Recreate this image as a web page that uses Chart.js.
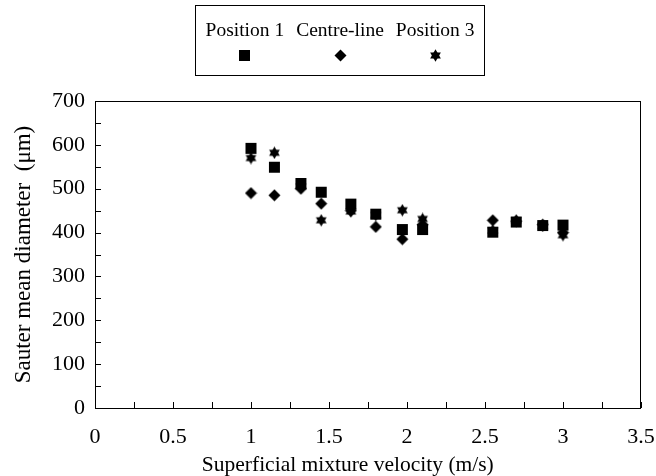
<!DOCTYPE html>
<html>
<head>
<meta charset="utf-8">
<script src="https://cdn.jsdelivr.net/npm/chart.js@4"></script>
<style>
  html, body { margin: 0; padding: 0; background: #fff; }
  #wrap { position: relative; width: 656px; height: 476px; }
  #legend {
    position: absolute; left: 195px; top: 5px; width: 290px; height: 71px;
    border: 1px solid #000; box-sizing: border-box;
    font-family: "Liberation Serif", "Times New Roman", serif; font-size: 19.5px;
    display: flex; justify-content: center; padding-top: 13px;
  }
  .item { display: flex; flex-direction: column; align-items: center; margin: 0 6px; line-height: 21px; }
  .item canvas { margin-top: 9px; }
</style>
</head>
<body>
<div id="wrap">
  <canvas id="chart" width="656" height="476"></canvas>
  <div id="legend"></div>
</div>
<script>
const velocity = [1.0, 1.15, 1.32, 1.45, 1.64, 1.8, 1.97, 2.1, 2.55, 2.7, 2.87, 3.0];
const position1 = [592, 549, 512, 492, 465, 442, 407, 407, 401, 424, 416, 417];
const centreLine = [490, 485, 500, 466, 450, 413, 385, 418, 428, 426, 418, 400];
const position3 = [570, 582, 505, 428, 448, 440, 451, 431, 405, 428, 415, 394];
const seriesNames = ["Position 1", "Centre-line", "Position 3"];
const xTitle = "Superficial mixture velocity (m/s)";
const yTitle = "Sauter mean diameter  (μm)";

function markerCanvas(kind) {
  const s = 13;
  const c = document.createElement("canvas");
  c.width = s; c.height = s;
  const g = c.getContext("2d");
  g.fillStyle = "#000";
  const m = s / 2;
  if (kind === "square") {
    g.fillRect(1, 1, 11, 11);
  } else if (kind === "diamond") {
    g.beginPath();
    g.moveTo(m, 0.5); g.lineTo(s - 0.5, m); g.lineTo(m, s - 0.5); g.lineTo(0.5, m);
    g.closePath(); g.fill();
  } else {
    const r = 6.2;
    for (const off of [-Math.PI / 2, Math.PI / 2]) {
      g.beginPath();
      for (let k = 0; k < 3; k++) {
        const a = off + k * 2 * Math.PI / 3;
        const px = m + r * Math.cos(a), py = m + r * Math.sin(a);
        k === 0 ? g.moveTo(px, py) : g.lineTo(px, py);
      }
      g.closePath(); g.fill();
    }
  }
  return c;
}

const markers = [markerCanvas("square"), markerCanvas("diamond"), markerCanvas("star")];

function pts(ys) {
  return velocity.map((v, i) => ({ x: v, y: ys[i] }));
}

// legend with text above marker
const legend = document.getElementById("legend");
seriesNames.forEach((name, i) => {
  const d = document.createElement("div");
  d.className = "item";
  const t = document.createElement("span");
  t.textContent = name;
  d.appendChild(t);
  d.appendChild(markerCanvas(["square", "diamond", "star"][i]));
  legend.appendChild(d);
});

const serif = "'Liberation Serif', 'Times New Roman', serif";

const frameTicks = {
  id: "frameTicks",
  afterDraw(chart) {
    const { ctx, chartArea: a, scales } = chart;
    ctx.save();
    ctx.strokeStyle = "#000";
    ctx.lineWidth = 1;
    ctx.strokeRect(a.left + 0.5, a.top + 0.5, a.right - a.left - 1, a.bottom - a.top);
    ctx.beginPath();
    scales.y.ticks.forEach(t => {
      const py = Math.round(scales.y.getPixelForValue(t.value)) + 0.5;
      ctx.moveTo(a.left, py); ctx.lineTo(a.left + 6, py);
    });
    scales.x.ticks.forEach(t => {
      const px = Math.round(scales.x.getPixelForValue(t.value)) + 0.5;
      ctx.moveTo(px, a.bottom); ctx.lineTo(px, a.bottom - 6);
    });
    ctx.stroke();
    // x axis title, sits a bit left of the plot centre in the original
    ctx.fillStyle = "#000";
    ctx.font = "21.5px " + serif;
    ctx.textAlign = "center";
    ctx.textBaseline = "middle";
    ctx.fillText(xTitle, a.left + (a.right - a.left) * 0.463, 465);
    ctx.restore();
  }
};

new Chart(document.getElementById("chart"), {
  type: "scatter",
  data: {
    datasets: [
      { label: seriesNames[0], data: pts(position1), pointStyle: markers[0] },
      { label: seriesNames[1], data: pts(centreLine), pointStyle: markers[1] },
      { label: seriesNames[2], data: pts(position3), pointStyle: markers[2] }
    ]
  },
  options: {
    responsive: false,
    animation: false,
    layout: { autoPadding: false, padding: { top: 101, right: 15, left: 0, bottom: 0 } },
    plugins: { legend: { display: false }, tooltip: { enabled: false } },
    scales: {
      x: {
        type: "linear", min: 0, max: 3.5,
        grid: { display: false, drawTicks: false },
        border: { display: false },
        ticks: {
          stepSize: 0.25, autoSkip: false, maxRotation: 0, padding: 16,
          color: "#000", font: { family: serif, size: 22 },
          callback: v => (Math.round(v * 100) % 50 === 0 ? String(v) : "")
        },
        afterFit: s => { s.height = 68; s.paddingLeft = 0; s.paddingRight = 0; }
      },
      y: {
        min: 0, max: 700,
        grid: { display: false, drawTicks: false },
        border: { display: false },
        ticks: {
          stepSize: 50, autoSkip: false, padding: 10,
          color: "#000", font: { family: serif, size: 22 },
          callback: v => (v % 100 === 0 ? String(v) : "")
        },
        title: { display: true, text: yTitle, color: "#000",
                 font: { family: serif, size: 23 }, padding: { top: 10, bottom: 4 } },
        afterFit: s => { s.width = 95; s.paddingTop = 0; s.paddingBottom = 0; }
      }
    }
  },
  plugins: [frameTicks]
});
</script>
</body>
</html>
